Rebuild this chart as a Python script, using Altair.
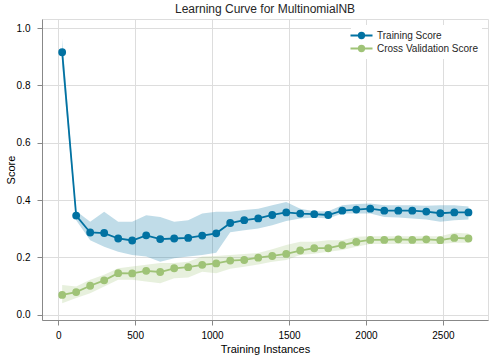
import altair as alt
import pandas as pd

sizes = [26, 117, 208, 299, 390, 481, 572, 663, 754, 845, 936, 1027, 1118, 1209, 1300,
         1391, 1482, 1573, 1664, 1755, 1846, 1937, 2028, 2119, 2210, 2301, 2392, 2483, 2574, 2666]

train_mean = [0.916, 0.346, 0.287, 0.285, 0.266, 0.259, 0.277, 0.264, 0.266, 0.268,
              0.276, 0.284, 0.320, 0.330, 0.336, 0.348, 0.357, 0.353, 0.351, 0.348,
              0.363, 0.367, 0.370, 0.363, 0.363, 0.363, 0.360, 0.354, 0.357, 0.357]
train_lo = [0.870, 0.330, 0.260, 0.237, 0.220, 0.208, 0.203, 0.185, 0.197, 0.203,
            0.208, 0.216, 0.288, 0.295, 0.301, 0.312, 0.327, 0.336, 0.339, 0.336,
            0.353, 0.353, 0.353, 0.341, 0.339, 0.336, 0.332, 0.324, 0.330, 0.332]
train_hi = [0.965, 0.362, 0.324, 0.359, 0.324, 0.324, 0.347, 0.341, 0.324, 0.330,
            0.353, 0.359, 0.359, 0.365, 0.370, 0.382, 0.393, 0.370, 0.361, 0.361,
            0.382, 0.386, 0.388, 0.382, 0.382, 0.382, 0.380, 0.382, 0.382, 0.378]

val_mean = [0.069, 0.079, 0.101, 0.120, 0.145, 0.144, 0.153, 0.149, 0.162, 0.166,
            0.174, 0.179, 0.189, 0.191, 0.199, 0.205, 0.212, 0.224, 0.232, 0.232,
            0.243, 0.254, 0.261, 0.261, 0.263, 0.261, 0.263, 0.260, 0.268, 0.266]
val_lo = [0.040, 0.058, 0.075, 0.098, 0.122, 0.122, 0.116, 0.110, 0.127, 0.130,
          0.150, 0.145, 0.160, 0.167, 0.175, 0.185, 0.191, 0.208, 0.213, 0.220,
          0.226, 0.237, 0.247, 0.247, 0.247, 0.247, 0.247, 0.247, 0.251, 0.251]
val_hi = [0.104, 0.098, 0.122, 0.139, 0.162, 0.168, 0.174, 0.180, 0.180, 0.185,
          0.203, 0.205, 0.208, 0.212, 0.215, 0.228, 0.243, 0.255, 0.255, 0.260,
          0.260, 0.272, 0.274, 0.274, 0.274, 0.274, 0.274, 0.274, 0.286, 0.283]

series = ["Training Score", "Cross Validation Score"]
colors = ["#0272a2", "#9fc377"]

rows = []
for name, m, lo, hi in [(series[0], train_mean, train_lo, train_hi),
                        (series[1], val_mean, val_lo, val_hi)]:
    for s, a, b, c in zip(sizes, m, lo, hi):
        rows.append({"size": s, "series": name, "mean": a, "lo": b, "hi": c})
df = pd.DataFrame(rows)

FONT = "Liberation Sans"
xscale = alt.Scale(domain=[-105, 2793], nice=False, zero=False)
yscale = alt.Scale(domain=[-0.0185, 1.032], nice=False, zero=False)
cscale = alt.Scale(domain=series, range=colors)

x = alt.X("size:Q", scale=xscale,
          axis=alt.Axis(title="Training Instances", values=[0, 500, 1000, 1500, 2000, 2500],
                        format="d", labelPadding=5, titlePadding=3, titleFontWeight="normal"))
y = alt.Y("mean:Q", scale=yscale,
          axis=alt.Axis(title="Score", values=[0, 0.2, 0.4, 0.6, 0.8, 1.0],
                        format=".1f", labelPadding=7, titlePadding=0, titleFontWeight="normal"))

sym = "M-2,0L2,0M-0.5,0A0.5,0.5,0,1,0,0.5,0A0.5,0.5,0,1,0,-0.5,0Z"
leg = alt.Legend(title=None, orient="none", legendX=309, legendY=6,
                 symbolType=sym, symbolSize=121, symbolStrokeWidth=1.8, symbolOpacity=1,
                 labelFontSize=10, labelFont=FONT, labelColor="#262626",
                 labelOffset=9, fillColor="white", padding=4, rowPadding=-1.5)
color = alt.Color("series:N", scale=cscale, legend=leg)

base = alt.Chart(df)

band = base.mark_area(opacity=0.25, interpolate="linear").encode(
    x=x,
    y=alt.Y("lo:Q", scale=yscale),
    y2="hi:Q",
    color=color,
)

line = base.mark_line(strokeWidth=1.8).encode(
    x=x, y=y,
    color=color,
)

pts = base.mark_circle(size=34, opacity=1).encode(
    x=x, y=y,
    color=color,
    stroke=alt.Stroke("series:N", scale=cscale, legend=leg),
)

chart = alt.layer(band, line, pts).properties(
    width=446, height=301,
    title=alt.TitleParams("Learning Curve for MultinomialNB", fontSize=12, font=FONT,
                          fontWeight="normal", color="#262626", anchor="middle",
                          offset=3),
    autosize=alt.AutoSizeParams(type="none"),
    padding={"left": 42, "top": 19, "right": 7, "bottom": 37},
).configure_view(
    stroke="#cccccc", strokeWidth=1.2
).configure_axis(
    grid=True, gridColor="#cccccc", gridWidth=1, domain=False, ticks=False,
    labelFont=FONT, labelFontSize=10, labelColor="#262626",
    titleFont=FONT, titleFontSize=11, titleFontWeight="normal", titleColor="#262626",
).configure(background="white")

chart.save("out.html", embed_options={"renderer": "svg", "actions": False})
